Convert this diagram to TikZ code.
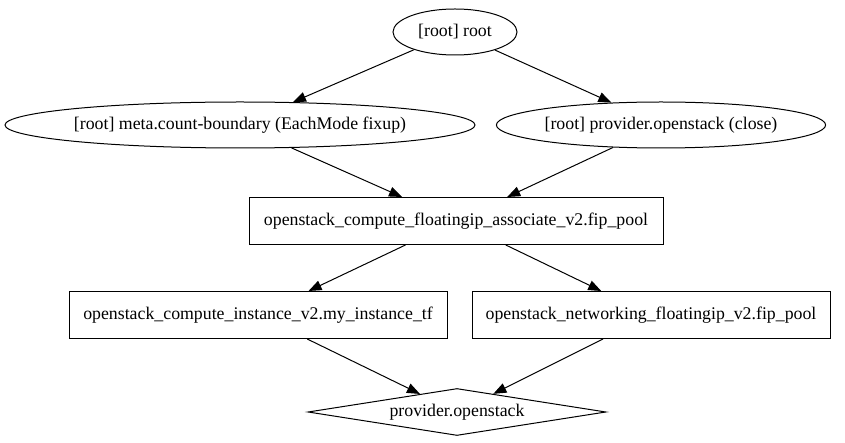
\documentclass[tikz,border=0pt]{standalone}
\usepackage{fontspec}
\setmainfont{Liberation Serif}
\usetikzlibrary{shapes.geometric,arrows.meta}
\begin{document}
\begin{tikzpicture}[x=1pt,y=-1pt,
  every node/.style={font=\fontsize{17.8}{20}\selectfont, inner sep=0pt, line width=1pt},
  ell/.style={draw, ellipse, minimum height=46pt},
  rbox/.style={draw, rectangle, minimum height=47pt},
  dia/.style={draw, diamond, minimum width=298pt, minimum height=47pt, aspect=6.3},
  edge/.style={-{Triangle[length=13pt,width=10pt]}, line width=1pt}
]
\useasboundingbox (0,0) rectangle (845,443);
\node[ell, minimum width=124pt] (root) at (455,32) {[root] root};
\node[ell, minimum width=470pt] (meta) at (240,125) {[root] meta.count-boundary (EachMode fixup)};
\node[ell, minimum width=326pt] (close) at (661,125) {[root] provider.openstack (close)};
\node[rbox, minimum width=414pt] (fip) at (456,221) {openstack\_compute\_floatingip\_associate\_v2.fip\_pool};
\node[rbox, minimum width=378pt] (inst) at (258,315) {openstack\_compute\_instance\_v2.my\_instance\_tf};
\node[rbox, minimum width=358pt] (net) at (651,315) {openstack\_networking\_floatingip\_v2.fip\_pool};
\node[dia] (prov) at (457,412) {provider.openstack};
\draw[edge] (root) -- (meta);
\draw[edge] (root) -- (close);
\draw[edge] (meta) -- (fip);
\draw[edge] (close) -- (fip);
\draw[edge] (fip) -- (inst);
\draw[edge] (fip) -- (net);
\draw[edge] (inst) -- (prov);
\draw[edge] (net) -- (prov);
\end{tikzpicture}
\end{document}
